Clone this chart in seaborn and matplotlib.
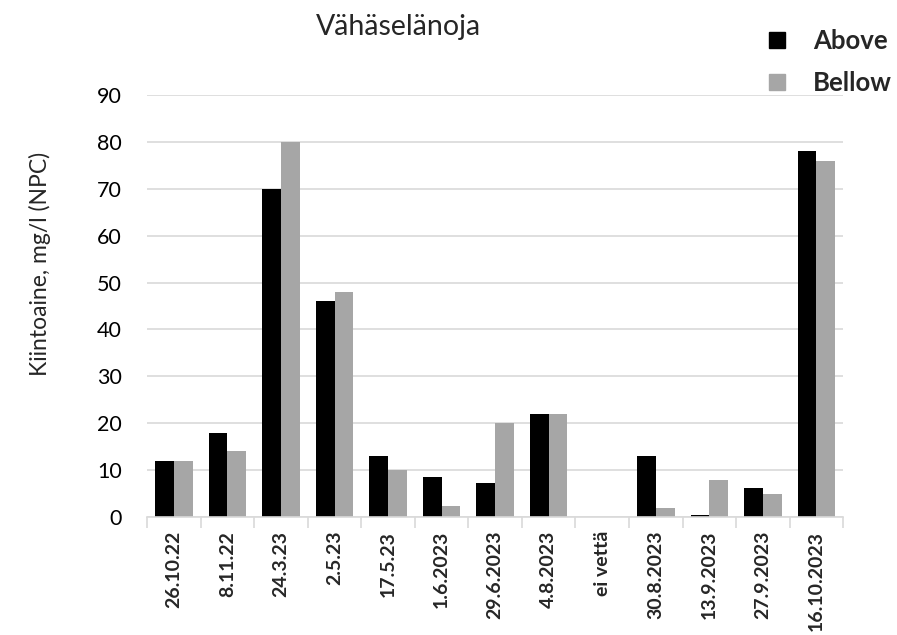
import matplotlib
matplotlib.use("Agg")
import matplotlib.pyplot as plt
import seaborn as sns
import pandas as pd
from matplotlib.lines import Line2D

dates = ["26.10.22", "8.11.22", "24.3.23", "2.5.23", "17.5.23", "1.6.2023", "29.6.2023",
         "4.8.2023", "ei vettä", "30.8.2023", "13.9.2023", "27.9.2023", "16.10.2023"]
above = [12, 18, 70, 46, 13, 8.5, 7.3, 22, 0, 13, 0.4, 6.1, 78]
bellow = [12, 14, 80, 48, 10, 2.3, 20, 22, 0, 1.8, 7.8, 4.8, 76]
series = ["Above", "Bellow"]
colors = ["#000000", "#a6a6a6"]

df = pd.DataFrame({
    "date": dates * 2,
    "value": above + bellow,
    "series": [series[0]] * len(dates) + [series[1]] * len(dates),
})

sns.set_theme(style="white")
plt.rcParams["font.family"] = ["Lato", "DejaVu Sans"]

fig = plt.figure(figsize=(8.97, 6.35), dpi=100)
ax = fig.add_axes([0.164, 0.186, 0.776, 0.664])

sns.barplot(data=df, x="date", y="value", hue="series", palette=colors,
            order=dates, hue_order=series, width=0.7, ax=ax, legend=False,
            edgecolor="none", saturation=1)

ax.set_ylim(0, 90)
ax.set_xlim(-0.5, len(dates) - 0.5)
ax.set_yticks(range(0, 91, 10))
ax.yaxis.grid(True, color="#d9d9d9", linewidth=1.2)
ax.set_axisbelow(True)
for s in ["left", "right", "top"]:
    ax.spines[s].set_visible(False)
ax.spines["bottom"].set_color("#d9d9d9")
ax.spines["bottom"].set_linewidth(1.2)

ax.tick_params(axis="y", labelsize=15.5, length=0, pad=18, colors="#000000")
ax.set_xticks(range(len(dates)))
ax.set_xticklabels(dates, rotation=90, fontsize=14, fontweight="bold")
ax.tick_params(axis="x", which="major", length=0, pad=10)
ax.set_xticks([i - 0.5 for i in range(len(dates) + 1)], minor=True)
ax.tick_params(axis="x", which="minor", length=8, color="#d9d9d9", width=1.2, bottom=True)

ax.set_xlabel("")
ax.set_ylabel("Kiintoaine, mg/l (NPC)", fontsize=16.5)
ax.yaxis.set_label_coords(-0.138, 0.6)

fig.text(0.444, 0.958, "Vähäselänoja", ha="center", va="center", fontsize=20.5)

handles = [Line2D([0], [0], marker="s", linestyle="none", markersize=11,
                  markerfacecolor=c, markeredgecolor=c) for c in colors]
leg = fig.legend(handles, series, loc="upper left", bbox_to_anchor=(0.812, 0.99),
                 frameon=False, prop={"weight": "bold", "size": 18.5},
                 handletextpad=0.4, labelspacing=0.7)

fig.savefig("out.png", dpi=100)
